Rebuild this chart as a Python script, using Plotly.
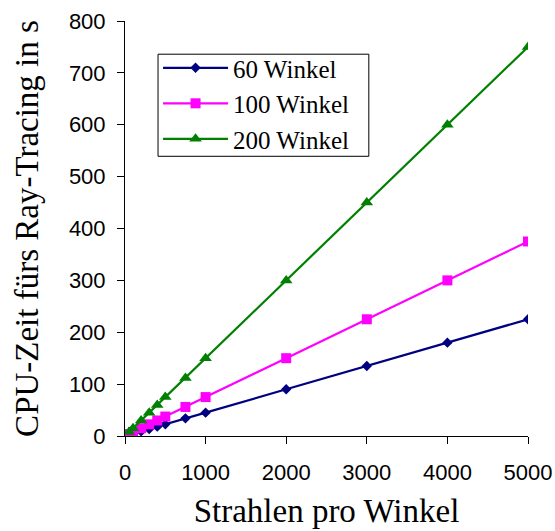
import plotly.graph_objects as go

strahlen = [50, 100, 200, 300, 400, 500, 750, 1000, 2000, 3000, 4000, 5000]
zeit_60 = [2.3, 4.5, 9, 13.5, 18, 22.5, 34, 45, 90, 135, 180, 225]
zeit_100 = [3.8, 7.5, 15, 22.5, 30, 37.5, 56, 75, 150, 225, 300, 375]
zeit_200 = [7.5, 15, 30, 45, 60, 75, 112, 150, 300, 450, 600, 750]
series_names = ["60 Winkel", "100 Winkel", "200 Winkel"]
x_ticks = [0, 1000, 2000, 3000, 4000, 5000]
y_ticks = [0, 100, 200, 300, 400, 500, 600, 700, 800]

fig = go.Figure()
styles = [("#000080", "diamond", 8), ("#FF00FF", "square", 10), ("#008000", "triangle-up", 11)]
for name, ys, (col, sym, sz) in zip(series_names, [zeit_60, zeit_100, zeit_200], styles):
    fig.add_trace(go.Scatter(x=strahlen, y=ys, name=name, mode="lines+markers",
                             line=dict(color=col, width=2.2),
                             marker=dict(symbol=sym, size=sz, color=col)))

# legend frame (wider than plotly's auto-sized legend box)
fig.add_shape(type="rect", xref="paper", yref="paper",
              x0=0.082, x1=0.605, y0=0.674, y1=0.92,
              line=dict(color="black", width=1), fillcolor="white", layer="below")

fig.update_layout(
    width=555, height=531,
    margin=dict(l=125, r=27, t=21, b=95),
    plot_bgcolor="white", paper_bgcolor="white",
    showlegend=True,
    legend=dict(x=0.082, y=0.942, xanchor="left", yanchor="top",
                borderwidth=0, bgcolor="rgba(0,0,0,0)",
                font=dict(family="Liberation Serif", size=25, color="black"),
                itemwidth=65, tracegroupgap=0),
    xaxis=dict(range=[0, 5000], tickvals=x_ticks, showgrid=False, zeroline=False,
               showline=True, linecolor="black", linewidth=1, automargin=False,
               ticks="outside", ticklen=7, tickcolor="black", ticklabelstandoff=10,
               tickfont=dict(family="Liberation Sans", size=22, color="black"),
               title=dict(text="Strahlen pro Winkel",
                          font=dict(family="Liberation Serif", size=33, color="black"),
                          standoff=14)),
    yaxis=dict(range=[0, 800], tickvals=y_ticks, showgrid=False, zeroline=False,
               showline=True, linecolor="black", linewidth=1, automargin=False,
               ticks="outside", ticklen=7, tickcolor="black", ticklabelstandoff=7,
               tickfont=dict(family="Liberation Sans", size=22, color="black"),
               title=dict(text="CPU-Zeit fürs Ray-Tracing in s",
                          font=dict(family="Liberation Serif", size=33, color="black"),
                          standoff=20)),
)

fig.write_html("out.html", config={"displayModeBar": False},
               post_script="document.body.style.margin='0';document.body.style.overflow='hidden';")
